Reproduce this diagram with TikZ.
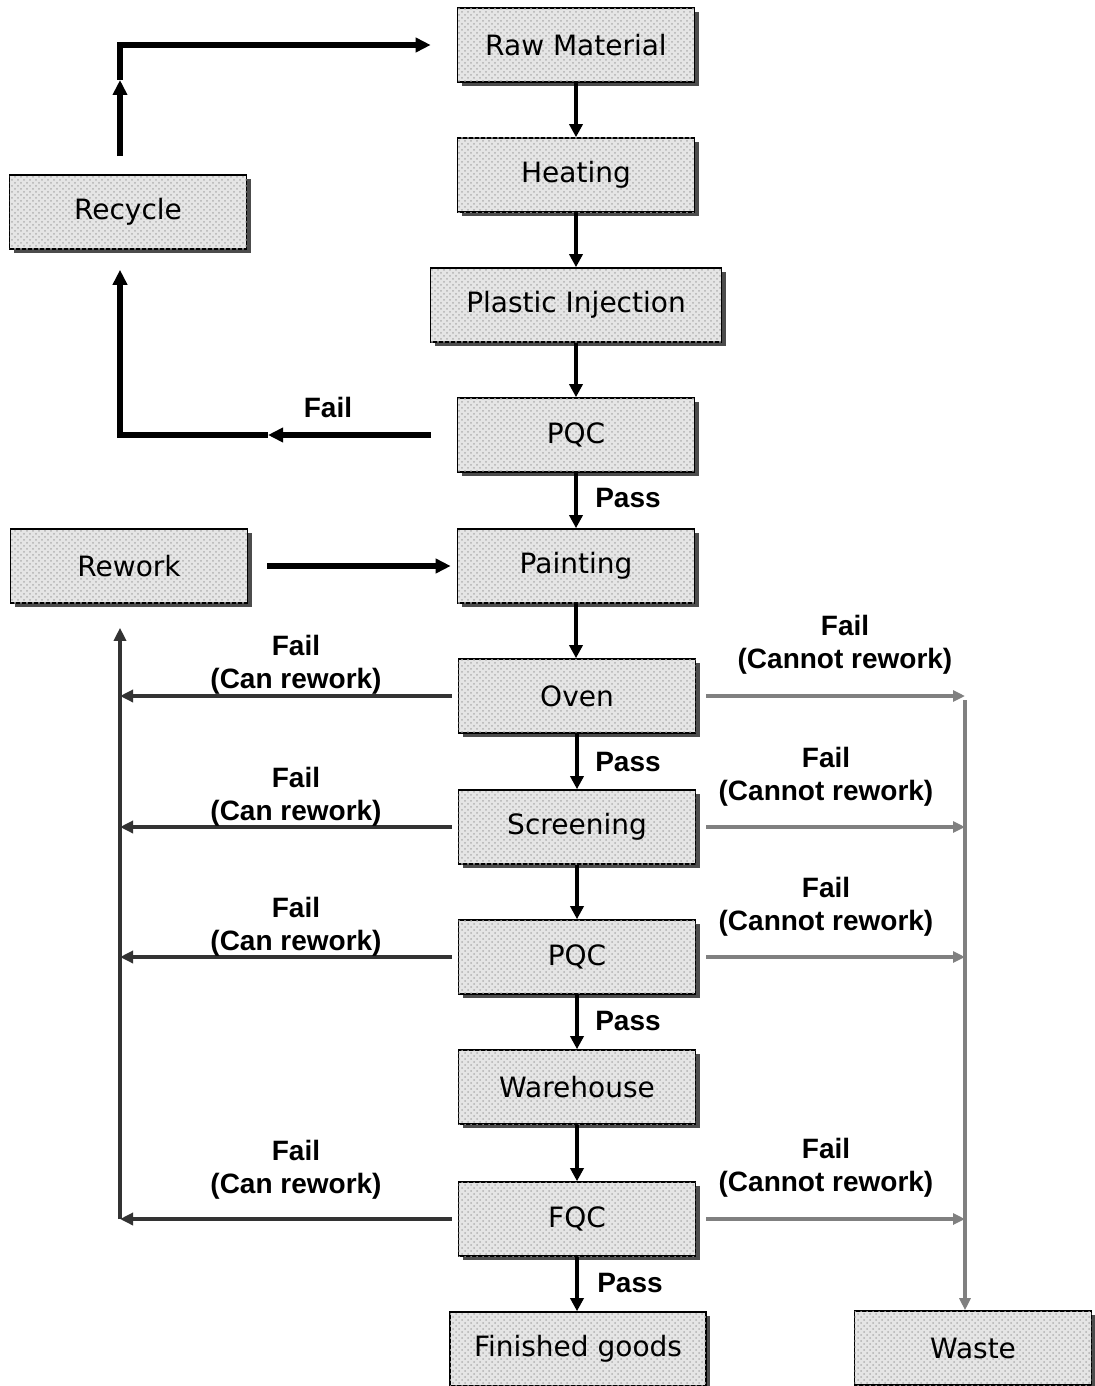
\documentclass[tikz,border=0pt]{standalone}
\usepackage{fontspec}
\setmainfont{DejaVu Sans}
\newfontfamily\lblfont{Liberation Sans}
\usetikzlibrary{arrows.meta, shadows, patterns}

\tikzset{
	stepbox/.style={draw=black, line width=0.8pt, minimum width=118.5pt, minimum height=37pt,
		inner sep=0pt, drop shadow={shadow xshift=2pt, shadow yshift=-2pt, fill=black!70, opacity=1},
		fill=gray!20, postaction={pattern=crosshatch dots, pattern color=gray!60},
		font=\fontsize{14}{16}\selectfont},
	lbl/.style={font=\lblfont\bfseries\fontsize{14}{16.5}\selectfont, align=center},
	flow/.style={-{Triangle[length=6.5pt,width=6.5pt]}, line width=2.3pt, black},
	thickarrow/.style={-{Triangle[length=7.5pt,width=7pt]}, line width=3pt, black},
	reworkline/.style={-{Triangle[length=6.5pt,width=6pt]}, line width=2.3pt, black!80},
	scrapline/.style={-{Triangle[length=6pt,width=5.5pt]}, line width=1.9pt, black!50},
}

\begin{document}
\begin{tikzpicture}[x=0.5pt, y=-0.5pt]

	\useasboundingbox (0,0) rectangle (1094,1386);

	% main process column
	\node[stepbox] (raw)    at (576,45)   {Raw Material};
	\node[stepbox] (heat)   at (576,175)  {Heating};
	\node[stepbox, minimum width=145.5pt] (inj) at (576,305) {Plastic Injection};
	\node[stepbox] (pqc1)   at (576,435)  {PQC};
	\node[stepbox] (paint)  at (576,566)  {Painting};
	\node[stepbox] (oven)   at (577,696)  {Oven};
	\node[stepbox] (screen) at (577,827)  {Screening};
	\node[stepbox] (pqc2)   at (577,957)  {PQC};
	\node[stepbox] (wh)     at (577,1087) {Warehouse};
	\node[stepbox] (fqc)    at (577,1219) {FQC};
	\node[stepbox, minimum width=128pt] (fin) at (578,1349) {Finished goods};

	% side boxes
	\node[stepbox] (recycle) at (128,212)  {Recycle};
	\node[stepbox] (rework)  at (129,566)  {Rework};
	\node[stepbox] (waste)   at (973,1348) {Waste};

	\coordinate (cyc)    at (120,435);
	\coordinate (cycmid) at (268,435);
	\coordinate (cycup)  at (120,80);
	\coordinate (cyctop) at (120,45);
	\coordinate (bus)    at (120,700);
	\coordinate (sink)   at (965,700);

	\foreach \a/\b in {raw/heat, heat/inj, inj/pqc1, pqc1/paint, paint/oven,
		oven/screen, screen/pqc2, pqc2/wh, wh/fqc, fqc/fin}{
		\draw[flow] (\a.south) -- (\a.south |- \b.north);
	}

	% recycle loop
	\draw[thickarrow] ([xshift=-13pt]pqc1.west) -- (cycmid);
	\draw[thickarrow] (cycmid) -- (cyc) -- ([yshift=-10pt]recycle.south -| cyc);
	\draw[thickarrow] ([yshift=9pt]recycle.north -| cyc) -- (cycup);
	\draw[thickarrow] (cycup) -- (cyctop) -- ([xshift=-13pt]raw.west);

	\draw[thickarrow] ([xshift=9.5pt]rework.east) -- ([xshift=-3pt]rework.east -| paint.west);

	% fail branches
	\foreach \n in {oven, screen, pqc2, fqc}{
		\draw[reworkline] ([xshift=-3pt]\n.west) -- (\n.west -| bus);
		\draw[scrapline] ([xshift=5pt]\n.east) -- (\n.east -| sink);
	}
	\draw[reworkline] (fqc.west -| bus) -- ([yshift=-12pt]rework.south -| bus);
	\draw[scrapline] ([yshift=-2pt]oven.east -| sink) -- (waste.north -| sink);

	% labels
	\node[lbl] (lf0) at (328,407)  {Fail};
	\node[lbl] (lp1) at (628,498)  {Pass};
	\node[lbl] (lp2) at (628,762)  {Pass};
	\node[lbl] (lp3) at (628,1021) {Pass};
	\node[lbl] (lp4) at (630,1283) {Pass};

	\node[lbl] (lc1) at (296,665)  {Fail\\(Can rework)};
	\node[lbl] (lc2) at (296,797)  {Fail\\(Can rework)};
	\node[lbl] (lc3) at (296,927)  {Fail\\(Can rework)};
	\node[lbl] (lc4) at (296,1170) {Fail\\(Can rework)};

	\node[lbl] (ln1) at (845,645)  {Fail\\(Cannot rework)};
	\node[lbl] (ln2) at (826,777)  {Fail\\(Cannot rework)};
	\node[lbl] (ln3) at (826,907)  {Fail\\(Cannot rework)};
	\node[lbl] (ln4) at (826,1168) {Fail\\(Cannot rework)};

\end{tikzpicture}
\end{document}
